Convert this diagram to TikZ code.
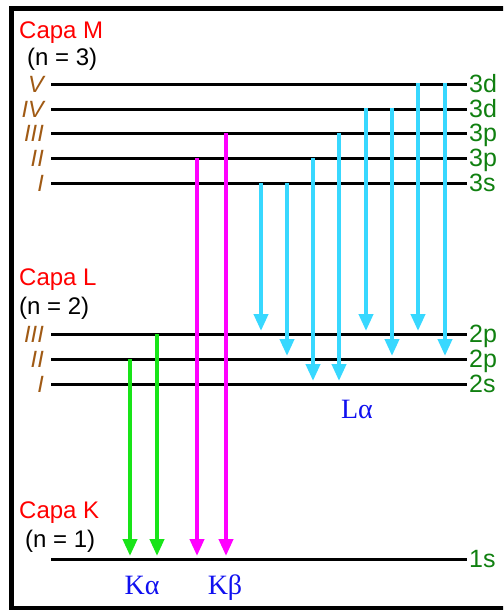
\documentclass[tikz,border=0pt]{standalone}
\usepackage{fontspec}
\setmainfont{Liberation Sans}
\newfontfamily\serifgreek{Liberation Serif}
\usetikzlibrary{arrows.meta}
\definecolor{capared}{RGB}{255,0,0}
\definecolor{numbrown}{RGB}{160,90,20}
\definecolor{lblgreen}{RGB}{16,128,16}
\definecolor{arrgreen}{RGB}{24,228,24}
\definecolor{arrmag}{RGB}{255,0,255}
\definecolor{arrcyan}{RGB}{56,216,255}
\definecolor{txtblue}{RGB}{16,16,240}
\tikzset{
  level/.style={line width=3pt, black},
  capa/.style={anchor=base west, inner sep=0pt, text=capared, font=\fontsize{24}{28}\selectfont},
  nval/.style={anchor=base west, inner sep=0pt, text=black, font=\fontsize{24}{28}\selectfont},
  roman/.style={anchor=east, inner sep=0pt, text=numbrown, font=\fontsize{23.5}{28}\selectfont\itshape},
  orb/.style={anchor=west, inner sep=0pt, text height=17pt, text depth=0pt, text=lblgreen, font=\fontsize{25}{28}\selectfont},
  series/.style={anchor=base, inner sep=0pt, text=txtblue, font=\fontsize{28}{32}\selectfont\serifgreek},
  trans/.style={line width=4pt, -{Triangle[width=14pt,length=17pt]}},
  ga/.style={trans, arrgreen},
  ma/.style={trans, arrmag},
  ca/.style={trans, arrcyan},
}
\begin{document}
\begin{tikzpicture}[x=1pt,y=-1pt]
\useasboundingbox (0,0) rectangle (503,610);
\fill[white] (0,0) rectangle (503,610);
\begin{scope}
\clip (0,0) rectangle (503,610);
\draw[line width=4.5pt] (11.5,8.5) rectangle (530,608);
\end{scope}

% level line end points
\foreach \n/\y in {M5/84,M4/109,M3/133,M2/158,M1/183,L3/334,L2/359,L1/384,K1/559}{
  \coordinate (\n l) at (51,\y);
  \coordinate (\n r) at (467,\y);
}
\foreach \n in {M5,M4,M3,M2,M1,L3,L2,L1,K1}{
  \draw[level] (\n l) -- (\n r);
}

% shell titles
\node[capa] (capaM) at (19,39) {Capa M};
\node[nval] (nM) at (27,66) {(n = 3)};
\node[capa] (capaL) at (19,285) {Capa L};
\node[nval] (nL) at (19,314) {(n = 2)};
\node[capa] (capaK) at (19,518) {Capa K};
\node[nval] (nK) at (25,547) {(n = 1)};

% roman numerals
\node[roman] (rM5) at ([xshift=-7pt]M5l) {V};
\node[roman] (rM4) at ([xshift=-7pt]M4l) {IV};
\node[roman] (rM3) at ([xshift=-7pt]M3l) {III};
\node[roman] (rM2) at ([xshift=-7pt]M2l) {II};
\node[roman] (rM1) at ([xshift=-7pt]M1l) {I};
\node[roman] (rL3) at ([xshift=-7pt]L3l) {III};
\node[roman] (rL2) at ([xshift=-7pt]L2l) {II};
\node[roman] (rL1) at ([xshift=-7pt]L1l) {I};

% orbital labels
\node[orb] (oM5) at ([xshift=2pt]M5r) {3d};
\node[orb] (oM4) at ([xshift=2pt]M4r) {3d};
\node[orb] (oM3) at ([xshift=2pt]M3r) {3p};
\node[orb] (oM2) at ([xshift=2pt]M2r) {3p};
\node[orb] (oM1) at ([xshift=2pt]M1r) {3s};
\node[orb] (oL3) at ([xshift=2pt]L3r) {2p};
\node[orb] (oL2) at ([xshift=2pt]L2r) {2p};
\node[orb] (oL1) at ([xshift=2pt]L1r) {2s};
\node[orb] (oK1) at ([xshift=2pt]K1r) {1s};

% transition end points
\coordinate (g1s) at (130,359); \coordinate (g1e) at (130,556);
\coordinate (g2s) at (157,334); \coordinate (g2e) at (157,556);
\coordinate (m1s) at (197,158); \coordinate (m1e) at (197,556);
\coordinate (m2s) at (226,133); \coordinate (m2e) at (226,556);
\coordinate (c1s) at (261,183); \coordinate (c1e) at (261,331);
\coordinate (c2s) at (287,183); \coordinate (c2e) at (287,356);
\coordinate (c3s) at (313,158); \coordinate (c3e) at (313,381);
\coordinate (c4s) at (339,133); \coordinate (c4e) at (339,381);
\coordinate (c5s) at (366,108); \coordinate (c5e) at (366,331);
\coordinate (c6s) at (392,108); \coordinate (c6e) at (392,356);
\coordinate (c7s) at (418,83);  \coordinate (c7e) at (418,331);
\coordinate (c8s) at (445,83);  \coordinate (c8e) at (445,356);

\draw[ga] (g1s) -- (g1e);
\draw[ga] (g2s) -- (g2e);
\draw[ma] (m1s) -- (m1e);
\draw[ma] (m2s) -- (m2e);
\foreach \i in {1,...,8}{
  \draw[ca] (c\i s) -- (c\i e);
}

% series labels
\node[series] (Ka) at (142,594) {Kα};
\node[series] (Kb) at (225,594) {Kβ};
\node[series] (La) at (357,418) {Lα};
\end{tikzpicture}
\end{document}
